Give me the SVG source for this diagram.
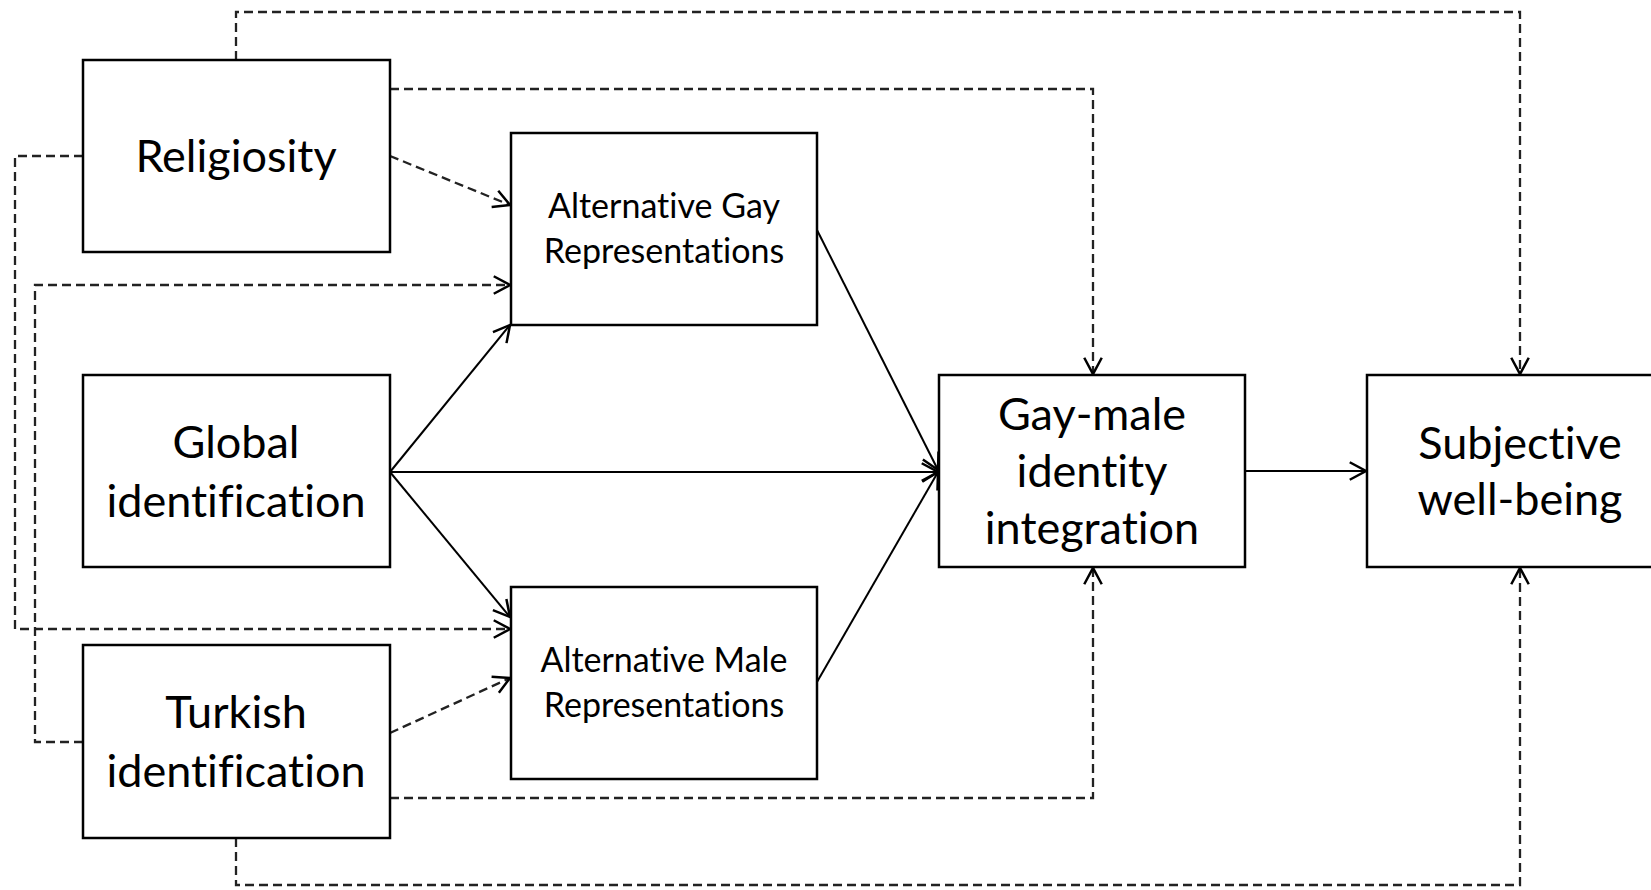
<svg xmlns="http://www.w3.org/2000/svg" width="1651" height="890" viewBox="0 0 1651 890">
<style>
.box{fill:#fff;stroke:#000;stroke-width:2.5}
text{font-family:Lato,"Open Sans","Liberation Sans",sans-serif;fill:#000;text-anchor:middle;font-variant-ligatures:none;font-feature-settings:"liga" 0}
.big{font-size:45px}
.small{font-size:34px}
.solid{fill:none;stroke:#000;stroke-width:2;marker-end:url(#arr)}
.dash{fill:none;stroke:#222;stroke-width:2.3;stroke-dasharray:9 5;marker-end:url(#arr)}
</style>
<defs>
<marker id="arr" markerUnits="userSpaceOnUse" markerWidth="30" markerHeight="30" viewBox="-16 -12 20 24" refX="0" refY="0" orient="auto">
<path d="M-13,-7 L0,0 L-13,7" fill="none" stroke="#000" stroke-width="2" stroke-dasharray="none"/>
</marker>
</defs>
<rect width="1651" height="890" fill="#fff"/>
<g id="connectors">
<path class="solid" d="M390,472 L510,325"/>
<path class="solid" d="M390,472 L938,472"/>
<path class="solid" d="M390,472 L510,617"/>
<path class="solid" d="M817,230 L938,470"/>
<path class="solid" d="M817,682 L938,472"/>
<path class="solid" d="M1245,471 L1366,471"/>
<path class="dash" d="M236,60 L236,12 L1520,12 L1520,374"/>
<path class="dash" d="M390,89 L1093,89 L1093,374"/>
<path class="dash" d="M390,156 L510,205"/>
<path class="dash" d="M83,156 L15,156 L15,629 L510,629"/>
<path class="dash" d="M83,742 L35,742 L35,285 L510,285"/>
<path class="dash" d="M390,733 L510,678"/>
<path class="dash" d="M390,798 L1093,798 L1093,568"/>
<path class="dash" d="M236,838 L236,885 L1520,885 L1520,568"/>
</g>
<g id="religiosity">
<rect class="box" x="83" y="60" width="307" height="192"/>
<text class="big" x="236" y="172">Religiosity</text>
</g>
<g id="global">
<rect class="box" x="83" y="375" width="307" height="192"/>
<text class="big" x="236" y="458">Global</text>
<text class="big" x="236" y="517">identification</text>
</g>
<g id="turkish">
<rect class="box" x="83" y="645" width="307" height="193"/>
<text class="big" x="236" y="728">Turkish</text>
<text class="big" x="236" y="787">identification</text>
</g>
<g id="altgay">
<rect class="box" x="511" y="133" width="306" height="192"/>
<text class="small" x="664" y="218">Alternative Gay</text>
<text class="small" x="664" y="263">Representations</text>
</g>
<g id="altmale">
<rect class="box" x="511" y="587" width="306" height="192"/>
<text class="small" x="664" y="672">Alternative Male</text>
<text class="small" x="664" y="717">Representations</text>
</g>
<g id="gaymale">
<rect class="box" x="939" y="375" width="306" height="192"/>
<text class="big" x="1092" y="430">Gay-male</text>
<text class="big" x="1092" y="487">identity</text>
<text class="big" x="1092" y="544">integration</text>
</g>
<g id="subjective">
<rect class="box" x="1367" y="375" width="306" height="192"/>
<text class="big" x="1520" y="459">Subjective</text>
<text class="big" x="1520" y="515">well-being</text>
</g>
</svg>
